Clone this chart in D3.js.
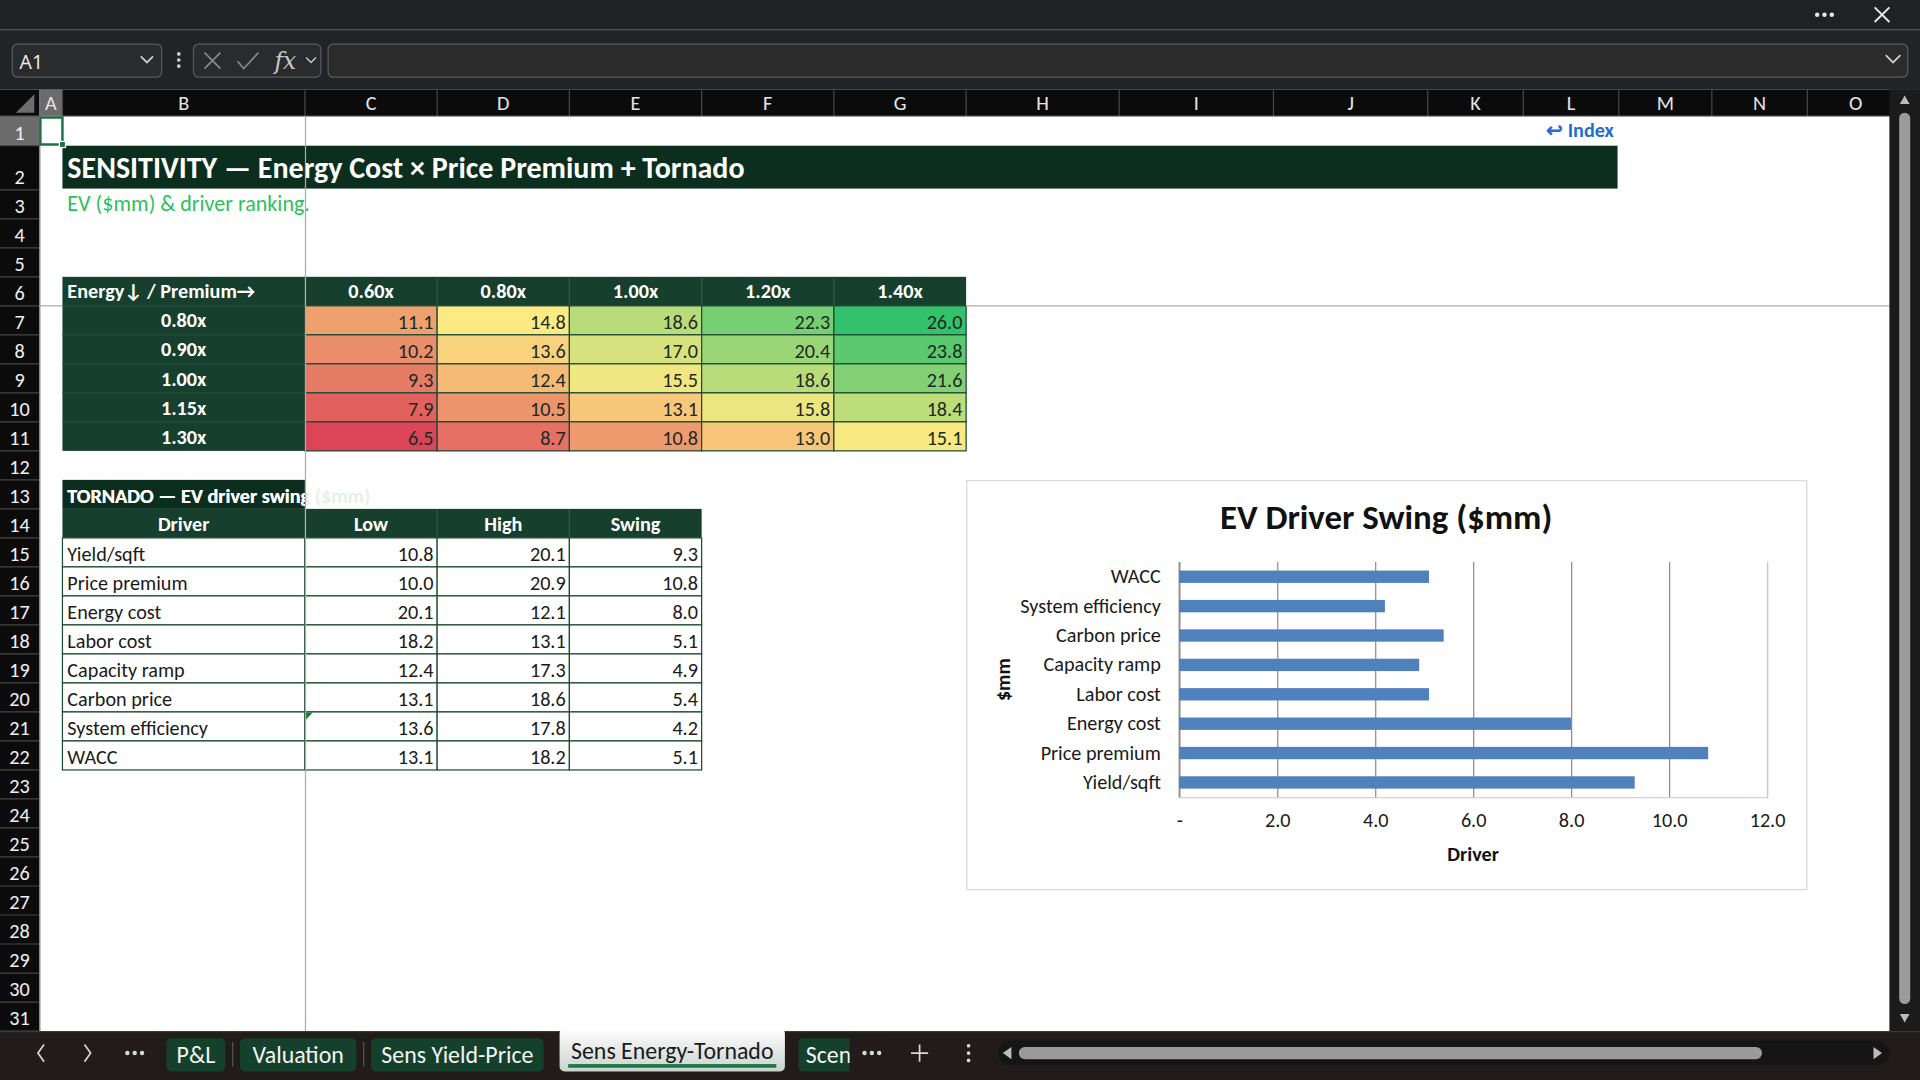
<!DOCTYPE html>
<html>
<head>
<meta charset="utf-8">
<script src="https://cdn.jsdelivr.net/npm/d3@7"></script>
<style>
html, body { margin: 0; padding: 0; background: #fff; overflow: hidden; }
svg { display: block; }
</style>
</head>
<body>
<svg id="sheet"></svg>
<script>
// ---- data ----
var premiumLabels = ['0.60x', '0.80x', '1.00x', '1.20x', '1.40x'];
var energyLabels = ['0.80x', '0.90x', '1.00x', '1.15x', '1.30x'];
var evGrid = [
    [11.1, 14.8, 18.6, 22.3, 26.0],
    [10.2, 13.6, 17.0, 20.4, 23.8],
    [9.3, 12.4, 15.5, 18.6, 21.6],
    [7.9, 10.5, 13.1, 15.8, 18.4],
    [6.5, 8.7, 10.8, 13.0, 15.1]
];
var drivers = ['Yield/sqft', 'Price premium', 'Energy cost', 'Labor cost', 'Capacity ramp', 'Carbon price', 'System efficiency', 'WACC'];
var lowVals = [10.8, 10.0, 20.1, 18.2, 12.4, 13.1, 13.6, 13.1];
var highVals = [20.1, 20.9, 12.1, 13.1, 17.3, 18.6, 17.8, 18.2];
var swingVals = [9.3, 10.8, 8.0, 5.1, 4.9, 5.4, 4.2, 5.1];
var tornadoCols = ['Driver', 'Low', 'High', 'Swing'];
var swingTicks = [0, 2, 4, 6, 8, 10, 12];
var sheetTabs = ['P&L', 'Valuation', 'Sens Yield-Price', 'Sens Energy-Tornado', 'Scenarios'];

// ---- layout ----
var W = 1568, H = 882;
var F = "Carlito, 'Liberation Sans Narrow', 'Open Sans', sans-serif";
var UI = "'Segoe UI', 'Open Sans', 'Noto Sans', sans-serif";
var cellFs = '16.5px', chartFs = '16.5px';
var colLetters = 'ABCDEFGHIJKLMNO'.split('');
var colEdges = [32, 51, 249, 357, 465, 573, 681, 789, 914, 1040, 1166, 1244, 1322, 1398, 1476, 1555];
function rowTop(r) {
    if (r <= 1) return 95;
    if (r == 2) return 119;
    return 155 + (r - 3) * 23.69;
}
var darkGreen = '#0c2e1f', headGreen = '#16402d', lineGreen = '#1d4a34';

var svg = d3.select('#sheet')
    .attr('width', 1920).attr('height', 1080)
    .attr('viewBox', '0 0 ' + W + ' ' + H)
    .style('font-family', F);

svg.append('rect').attr('width', W).attr('height', H).attr('fill', '#ffffff');

function dots(cx, cy, fill) {
    [-6, 0, 6].forEach(function(dx) {
        svg.append('circle').attr('cx', cx + dx).attr('cy', cy).attr('r', 1.8).attr('fill', fill);
    });
}

// ---- window chrome: title + formula bar ----
svg.append('rect').attr('width', W).attr('height', 24).attr('fill', '#202124');
svg.append('rect').attr('y', 24).attr('width', W).attr('height', 49).attr('fill', '#212326');
svg.append('line').attr('x1', 0).attr('x2', W).attr('y1', 24.5).attr('y2', 24.5).attr('stroke', '#4a4a4a');
dots(1490, 12, '#e8e8e8');
svg.append('path').attr('d', 'M1531,6 l12,12 M1543,6 l-12,12').attr('stroke', '#e8e8e8').attr('stroke-width', 1.6);

svg.append('rect').attr('x', 10).attr('y', 36).attr('width', 122).attr('height', 27).attr('rx', 4)
    .attr('fill', '#2a2b2d').attr('stroke', '#5a5a5a');
svg.append('text').attr('x', 16).attr('y', 56).attr('fill', '#f0f0f0').style('font-size', '16px')
    .style('font-family', UI).text('A1');
svg.append('path').attr('d', 'M115,46 l5,5 l5,-5').attr('fill', 'none').attr('stroke', '#d0d0d0').attr('stroke-width', 1.4);
[44, 49, 54].forEach(function(cy) {
    svg.append('circle').attr('cx', 146).attr('cy', cy).attr('r', 1.5).attr('fill', '#d0d0d0');
});
svg.append('rect').attr('x', 158).attr('y', 36).attr('width', 104).attr('height', 27).attr('rx', 4)
    .attr('fill', '#2a2b2d').attr('stroke', '#5a5a5a');
svg.append('path').attr('d', 'M167,43 l13,13 M180,43 l-13,13').attr('stroke', '#8a8a8a').attr('stroke-width', 1.3);
svg.append('path').attr('d', 'M194,50 l5,6 l12,-13').attr('fill', 'none').attr('stroke', '#8a8a8a').attr('stroke-width', 1.3);
svg.append('text').attr('x', 233).attr('y', 56).attr('text-anchor', 'middle').attr('fill', '#c8c8c8')
    .style('font-size', '19px').style('font-style', 'italic').style('font-family', 'DejaVu Serif, serif').text('fx');
svg.append('path').attr('d', 'M250,47 l4,4 l4,-4').attr('fill', 'none').attr('stroke', '#c8c8c8').attr('stroke-width', 1.2);
svg.append('rect').attr('x', 268).attr('y', 36).attr('width', 1290).attr('height', 27).attr('rx', 4)
    .attr('fill', '#2b2b2b').attr('stroke', '#5a5a5a');
svg.append('path').attr('d', 'M1540,45 l6,6 l6,-6').attr('fill', 'none').attr('stroke', '#d0d0d0').attr('stroke-width', 1.4);

// ---- column headers ----
svg.append('rect').attr('y', 73).attr('width', W).attr('height', 22).attr('fill', '#0b0b0b');
svg.append('path').attr('d', 'M28,77 L28,92 L13,92 Z').attr('fill', '#6d6d6d');
var colHead = svg.append('g');
colLetters.forEach(function(c, i) {
    var x0 = colEdges[i], x1 = colEdges[i + 1];
    if (c == 'A') colHead.append('rect').attr('x', x0).attr('y', 73).attr('width', x1 - x0).attr('height', 22).attr('fill', '#6b6b6b');
    colHead.append('line').attr('x1', x1).attr('x2', x1).attr('y1', 73).attr('y2', 95).attr('stroke', '#474747');
    colHead.append('text').attr('x', (x0 + x1) / 2).attr('y', 90).attr('text-anchor', 'middle')
        .attr('fill', '#e6e6e6').style('font-size', '16.5px').text(c);
});
svg.append('line').attr('x1', 0).attr('x2', 1543).attr('y1', 95).attr('y2', 95).attr('stroke', '#9a9a9a');

// ---- row headers ----
svg.append('rect').attr('y', 95).attr('width', 32).attr('height', 747).attr('fill', '#0b0b0b');
var rowHead = svg.append('g');
d3.range(1, 32).forEach(function(r) {
    var y0 = rowTop(r), y1 = rowTop(r + 1);
    if (r == 1) rowHead.append('rect').attr('x', 0).attr('y', y0).attr('width', 32).attr('height', y1 - y0).attr('fill', '#6b6b6b');
    rowHead.append('line').attr('x1', 0).attr('x2', 32).attr('y1', y1).attr('y2', y1).attr('stroke', '#474747');
    rowHead.append('text').attr('x', 16).attr('y', y1 - 5).attr('text-anchor', 'middle')
        .attr('fill', '#f0f0f0').style('font-size', '16.5px').text(r);
});
svg.append('line').attr('x1', 32.5).attr('x2', 32.5).attr('y1', 73).attr('y2', 842).attr('stroke', '#777');

// ---- title block ----
svg.append('rect').attr('x', 51).attr('y', 119).attr('width', 1270).attr('height', 35).attr('fill', darkGreen);
svg.append('text').attr('x', 55).attr('y', 145).attr('fill', '#ffffff')
    .style('font-size', '24.5px').style('font-weight', 'bold')
    .text('SENSITIVITY — Energy Cost × Price Premium + Tornado');
svg.append('text').attr('x', 55).attr('y', 172).attr('fill', '#2fbf5a')
    .style('font-size', '18px').text('EV ($mm) & driver ranking.');
svg.append('text').attr('x', 1318).attr('y', 112).attr('text-anchor', 'end').attr('fill', '#1f6fd1')
    .style('font-size', '16.5px').style('font-weight', 'bold').text('↩ Index');

// ---- heat map ----
var allEv = d3.merge(evGrid);
var heatColor = d3.scaleLinear()
    .domain([d3.min(allEv), d3.median(allEv), d3.max(allEv)])
    .range(['#dc4457', '#feea83', '#33c16b']);
var hx = d3.scaleBand().domain(premiumLabels).range([colEdges[2], colEdges[7]]);
var hy = d3.scaleBand().domain(energyLabels).range([rowTop(7), rowTop(12)]);
var heat = svg.append('g');
heat.append('rect').attr('x', colEdges[1]).attr('y', rowTop(6)).attr('width', colEdges[7] - colEdges[1])
    .attr('height', rowTop(12) - rowTop(6)).attr('fill', headGreen);
heat.append('text').attr('x', colEdges[1] + 4).attr('y', rowTop(7) - 6).attr('fill', '#fff')
    .style('font-size', cellFs).style('font-weight', 'bold').text('Energy↓ / Premium→');
heat.selectAll('.ph').data(premiumLabels).enter().append('text')
    .attr('x', function(d) { return hx(d) + hx.bandwidth() / 2; })
    .attr('y', rowTop(7) - 6).attr('text-anchor', 'middle').attr('fill', '#fff')
    .style('font-size', cellFs).style('font-weight', 'bold').text(function(d) { return d; });
heat.selectAll('.eh').data(energyLabels).enter().append('text')
    .attr('x', (colEdges[1] + colEdges[2]) / 2)
    .attr('y', function(d) { return hy(d) + hy.bandwidth() - 6; }).attr('text-anchor', 'middle').attr('fill', '#fff')
    .style('font-size', cellFs).style('font-weight', 'bold').text(function(d) { return d; });
heat.selectAll('.hsep').data(energyLabels).enter().append('line')
    .attr('x1', colEdges[1]).attr('x2', colEdges[2])
    .attr('y1', function(d) { return hy(d); }).attr('y2', function(d) { return hy(d); })
    .attr('stroke', '#224f39');
heat.selectAll('.vsep').data(premiumLabels).enter().append('line')
    .attr('x1', function(d) { return hx(d); }).attr('x2', function(d) { return hx(d); })
    .attr('y1', rowTop(6)).attr('y2', rowTop(7)).attr('stroke', '#2a5842');
var cells = [];
evGrid.forEach(function(row, i) {
    row.forEach(function(v, j) { cells.push({ e: energyLabels[i], p: premiumLabels[j], v: v }); });
});
heat.selectAll('.cell').data(cells).enter().append('rect')
    .attr('x', function(d) { return hx(d.p); }).attr('y', function(d) { return hy(d.e); })
    .attr('width', hx.bandwidth()).attr('height', hy.bandwidth())
    .attr('fill', function(d) { return heatColor(d.v); })
    .attr('stroke', lineGreen).attr('stroke-width', 1);
heat.selectAll('.val').data(cells).enter().append('text')
    .attr('x', function(d) { return hx(d.p) + hx.bandwidth() - 3; })
    .attr('y', function(d) { return hy(d.e) + hy.bandwidth() - 5; })
    .attr('text-anchor', 'end').attr('fill', '#1e2a22').style('font-size', cellFs)
    .text(function(d) { return d3.format('.1f')(d.v); });

// ---- tornado table ----
var tb = svg.append('g');
var tTitle = 'TORNADO — EV driver swing ($mm)';
tb.append('rect').attr('x', colEdges[1]).attr('y', rowTop(13)).attr('width', colEdges[2] - colEdges[1])
    .attr('height', rowTop(14) - rowTop(13)).attr('fill', darkGreen);
tb.append('text').attr('x', colEdges[1] + 4).attr('y', rowTop(14) - 5).attr('fill', '#e4f2e9')
    .style('font-size', cellFs).style('font-weight', 'bold').text(tTitle);
svg.append('clipPath').attr('id', 'clipB').append('rect')
    .attr('x', colEdges[1]).attr('y', rowTop(13)).attr('width', colEdges[2] - colEdges[1]).attr('height', 30);
tb.append('text').attr('x', colEdges[1] + 4).attr('y', rowTop(14) - 5).attr('fill', '#ffffff')
    .attr('clip-path', 'url(#clipB)')
    .style('font-size', cellFs).style('font-weight', 'bold').text(tTitle);

tb.append('rect').attr('x', colEdges[1]).attr('y', rowTop(14)).attr('width', colEdges[5] - colEdges[1])
    .attr('height', rowTop(15) - rowTop(14)).attr('fill', headGreen);
tornadoCols.forEach(function(c, i) {
    tb.append('text').attr('x', (colEdges[i + 1] + colEdges[i + 2]) / 2).attr('y', rowTop(15) - 6)
        .attr('text-anchor', 'middle').attr('fill', '#fff')
        .style('font-size', cellFs).style('font-weight', 'bold').text(c);
    if (i > 0) tb.append('line').attr('x1', colEdges[i + 1]).attr('x2', colEdges[i + 1])
        .attr('y1', rowTop(14)).attr('y2', rowTop(15)).attr('stroke', '#2a5842');
});
var ty = d3.scaleBand().domain(drivers).range([rowTop(15), rowTop(23)]);
var trows = drivers.map(function(d, i) { return [d, lowVals[i], highVals[i], swingVals[i]]; });
trows.forEach(function(row, ri) {
    var y0 = ty(row[0]);
    row.forEach(function(v, ci) {
        var x0 = colEdges[ci + 1], x1 = colEdges[ci + 2];
        tb.append('rect').attr('x', x0).attr('y', y0).attr('width', x1 - x0).attr('height', ty.bandwidth())
            .attr('fill', '#fff').attr('stroke', lineGreen);
        tb.append('text')
            .attr('x', ci == 0 ? x0 + 4 : x1 - 3).attr('y', y0 + ty.bandwidth() - 5)
            .attr('text-anchor', ci == 0 ? 'start' : 'end').attr('fill', '#1a1a1a')
            .style('font-size', cellFs).text(ci == 0 ? v : d3.format('.1f')(v));
    });
});
// error indicator in C21
tb.append('path').attr('d', 'M' + (colEdges[2] + 0.5) + ',' + (ty('System efficiency') + 0.5) + ' l6,0 l-6,6 z').attr('fill', '#1a7f2e');

// ---- freeze pane lines ----
svg.append('line').attr('x1', 249.5).attr('x2', 249.5).attr('y1', 95).attr('y2', 842).attr('stroke', '#ababab');
svg.append('line').attr('x1', 32).attr('x2', colEdges[1]).attr('y1', rowTop(7)).attr('y2', rowTop(7)).attr('stroke', '#ababab');
svg.append('line').attr('x1', colEdges[7]).attr('x2', 1543).attr('y1', rowTop(7)).attr('y2', rowTop(7)).attr('stroke', '#ababab');

// A1 selection
svg.append('rect').attr('x', 33).attr('y', 96).attr('width', 18).attr('height', 22)
    .attr('fill', 'none').attr('stroke', '#1e7145').attr('stroke-width', 2);
svg.append('rect').attr('x', 48.5).attr('y', 115.5).attr('width', 5).attr('height', 5)
    .attr('fill', '#1e7145').attr('stroke', '#fff').attr('stroke-width', 1);

// ---- chart: EV Driver Swing ----
var chart = svg.append('g');
chart.append('rect').attr('x', 789.5).attr('y', 392.5).attr('width', 686).attr('height', 334)
    .attr('fill', '#fff').attr('stroke', '#d9d9d9');
var x = d3.scaleLinear().domain([0, 12]).range([963, 1443]);
var y = d3.scaleBand().domain(drivers.slice().reverse()).range([459, 651]);
var plotTop = 459, plotBottom = 651;

chart.append('g').attr('transform', 'translate(0,' + plotBottom + ')')
    .call(d3.axisBottom(x).tickValues(swingTicks).tickSize(-(plotBottom - plotTop)).tickFormat(''))
    .call(function(g) {
        g.select('.domain').attr('stroke', '#c8c8c8');
        g.selectAll('.tick line').attr('stroke', function(d) { return d == 12 ? '#c8c8c8' : '#8c8c8c'; });
    });
chart.append('line').attr('x1', x(0)).attr('x2', x(0)).attr('y1', plotTop).attr('y2', plotBottom).attr('stroke', '#8c8c8c');

var barH = y.bandwidth() * 0.42;
chart.selectAll('.bar').data(drivers).enter().append('rect')
    .attr('x', x(0))
    .attr('y', function(d) { return y(d) + (y.bandwidth() - barH) / 2; })
    .attr('width', function(d, i) { return x(swingVals[i]) - x(0); })
    .attr('height', barH)
    .attr('fill', '#4f81bd');

chart.append('g').attr('transform', 'translate(0,' + plotBottom + ')')
    .call(d3.axisBottom(x).tickValues(swingTicks).tickSize(0).tickPadding(13)
        .tickFormat(function(d) { return d == 0 ? '-' : d3.format('.1f')(d); }))
    .call(function(g) {
        g.select('.domain').remove();
        g.selectAll('text').attr('fill', '#1a1a1a').style('font-size', chartFs).style('font-family', F);
    });
chart.append('g').attr('transform', 'translate(' + x(0) + ',0)')
    .call(d3.axisLeft(y).tickSize(0).tickPadding(15))
    .call(function(g) {
        g.select('.domain').remove();
        g.selectAll('text').attr('fill', '#1a1a1a').style('font-size', chartFs).style('font-family', F);
    });

chart.append('text').attr('x', 1132).attr('y', 432).attr('text-anchor', 'middle').attr('fill', '#111')
    .style('font-size', '28.5px').style('font-weight', 'bold').text('EV Driver Swing ($mm)');
chart.append('text').attr('x', 1203).attr('y', 703).attr('text-anchor', 'middle').attr('fill', '#111')
    .style('font-size', chartFs).style('font-weight', 'bold').text('Driver');
chart.append('text').attr('transform', 'translate(825,555) rotate(-90)').attr('text-anchor', 'middle').attr('fill', '#111')
    .style('font-size', chartFs).style('font-weight', 'bold').text('$mm');

// ---- vertical scrollbar ----
svg.append('rect').attr('x', 1543).attr('y', 73).attr('width', 25).attr('height', 769).attr('fill', '#1b1b1b');
svg.append('rect').attr('x', 1551).attr('y', 92).attr('width', 9).attr('height', 728).attr('rx', 4.5).attr('fill', '#9b9b9b');
svg.append('path').attr('d', 'M1555.5,78 l4,7 l-8,0 z').attr('fill', '#bbb');
svg.append('path').attr('d', 'M1555.5,835 l4,-7 l-8,0 z').attr('fill', '#bbb');

// ---- sheet tab bar ----
svg.append('rect').attr('y', 842).attr('width', W).attr('height', 40).attr('fill', '#221b1b');
svg.append('line').attr('x1', 0).attr('x2', W).attr('y1', 842.5).attr('y2', 842.5).attr('stroke', '#3a3a3a');
svg.append('path').attr('d', 'M36,853 l-5,7 l5,7').attr('fill', 'none').attr('stroke', '#d8d8d8').attr('stroke-width', 1.4);
svg.append('path').attr('d', 'M69,853 l5,7 l-5,7').attr('fill', 'none').attr('stroke', '#d8d8d8').attr('stroke-width', 1.4);
dots(110, 860, '#d8d8d8');
var tabX = [[136, 184], [196, 291], [303, 444], [457, 641], [652, 694]];
svg.append('clipPath').attr('id', 'clipTab').append('rect').attr('x', 652).attr('y', 842).attr('width', 42).attr('height', 40);
var grad = svg.append('defs').append('linearGradient').attr('id', 'activeTab').attr('x1', 0).attr('x2', 0).attr('y1', 0).attr('y2', 1);
grad.append('stop').attr('offset', '0%').attr('stop-color', '#ffffff');
grad.append('stop').attr('offset', '100%').attr('stop-color', '#c9d2ce');
sheetTabs.forEach(function(t, i) {
    var x0 = tabX[i][0], x1 = tabX[i][1];
    var active = t == 'Sens Energy-Tornado';
    var g = svg.append('g');
    if (i == 4) g.attr('clip-path', 'url(#clipTab)');
    g.append('rect').attr('x', x0).attr('y', active ? 840 : 848).attr('width', (i == 4 ? 80 : x1 - x0))
        .attr('height', active ? 35 : 27).attr('rx', 4)
        .attr('fill', active ? 'url(#activeTab)' : '#15402c');
    g.append('text').attr('x', i == 4 ? x0 + 6 : (x0 + x1) / 2).attr('y', active ? 865 : 868)
        .attr('text-anchor', i == 4 ? 'start' : 'middle')
        .attr('fill', active ? '#1a1a1a' : '#f4f4f4').style('font-size', '19.5px').text(t);
    if (active) g.append('rect').attr('x', x0 + 7).attr('y', 869).attr('width', x1 - x0 - 14).attr('height', 3).attr('fill', '#1e7a45');
    if (i < 4 && !active && sheetTabs[i + 1] != 'Sens Energy-Tornado')
        svg.append('line').attr('x1', x1 + 6).attr('x2', x1 + 6).attr('y1', 851).attr('y2', 871).attr('stroke', '#555');
});
svg.append('rect').attr('x', 694).attr('y', 846).attr('width', 34).attr('height', 32).attr('fill', '#221b1b');
dots(712, 860, '#d8d8d8');
svg.append('path').attr('d', 'M744,860 l14,0 M751,853 l0,14').attr('stroke', '#d8d8d8').attr('stroke-width', 1.4);
[854, 860, 866].forEach(function(cy) {
    svg.append('circle').attr('cx', 791).attr('cy', cy).attr('r', 1.5).attr('fill', '#d8d8d8');
});
svg.append('rect').attr('x', 815).attr('y', 850).attr('width', 728).attr('height', 20).attr('rx', 10).attr('fill', '#151515');
svg.append('rect').attr('x', 832).attr('y', 855).attr('width', 607).attr('height', 10).attr('rx', 5).attr('fill', '#9a9a9a');
svg.append('path').attr('d', 'M819,860 l7,-5 l0,10 z').attr('fill', '#bbb');
svg.append('path').attr('d', 'M1537,860 l-7,-5 l0,10 z').attr('fill', '#bbb');
</script>
</body>
</html>
